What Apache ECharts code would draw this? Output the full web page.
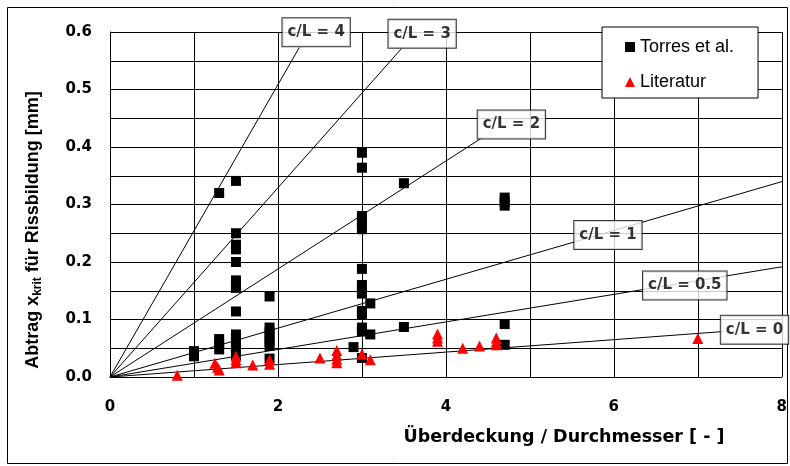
<!DOCTYPE html>
<html><head><meta charset="utf-8">
<script src="https://cdn.jsdelivr.net/npm/echarts@6/dist/echarts.min.js"></script>
<style>html,body{margin:0;padding:0;background:#fff}#c{width:790px;height:466px}</style>
</head><body><div id="c"></div>
<script>
// Torres et al. (black squares): [Überdeckung/Durchmesser, Abtrag mm]
const torres = [
  [1.0,0.045],[1.0,0.036],
  [1.3,0.32],[1.3,0.066],[1.3,0.058],[1.3,0.048],
  [1.5,0.341],[1.5,0.25],[1.5,0.23],[1.5,0.222],[1.5,0.2],[1.5,0.168],[1.5,0.16],[1.5,0.155],
  [1.5,0.114],[1.5,0.074],[1.5,0.067],[1.5,0.06],[1.5,0.052],[1.5,0.045],[1.5,0.038],
  [1.9,0.14],[1.9,0.086],[1.9,0.078],[1.9,0.07],[1.9,0.062],[1.9,0.054],[1.9,0.032],
  [2.9,0.052],
  [3.0,0.39],[3.0,0.364],[3.0,0.28],[3.0,0.273],[3.0,0.265],[3.0,0.257],[3.0,0.188],
  [3.0,0.16],[3.0,0.15],[3.0,0.145],[3.0,0.115],[3.0,0.108],[3.0,0.086],[3.0,0.079],[3.0,0.033],
  [3.1,0.128],[3.1,0.074],
  [3.5,0.337],[3.5,0.087],
  [4.7,0.312],[4.7,0.305],[4.7,0.298],[4.7,0.092],[4.7,0.056]
];
// Literatur (red triangles)
const literatur = [
  [0.8,0.003],
  [1.25,0.024],[1.28,0.017],[1.3,0.012],
  [1.5,0.036],[1.5,0.03],[1.5,0.025],
  [1.7,0.021],
  [1.9,0.03],[1.9,0.022],
  [2.5,0.033],
  [2.7,0.046],[2.7,0.038],[2.7,0.031],[2.7,0.025],
  [3.0,0.04],[3.1,0.03],
  [3.9,0.075],[3.9,0.068],[3.9,0.062],
  [4.2,0.05],[4.4,0.054],
  [4.6,0.068],[4.6,0.061],[4.6,0.056],
  [7.0,0.067]
];
// c/L reference lines: from origin to end point
const ratioNames = ['c/L = 4','c/L = 3','c/L = 2','c/L = 1','c/L = 0.5','c/L = 0'];
const ratioLineEnds = [[2.254,0.573],[3.47,0.571],[4.43,0.416],[8.1,0.344],[8.1,0.194],[7.3,0.079]];
const ratioLabelPos = [[2.455,0.5997],[3.717,0.597],[4.78,0.439],[5.93,0.247],[6.845,0.159],[7.675,0.0823]];
// axes
const xMin = 0, xMax = 8, xGridStep = 1, xLabelStep = 2;
const yMin = 0, yMax = 0.6, yGridStep = 0.05, yLabelStep = 0.1;

const BOLD = 'DejaVu Sans';
const chart = echarts.init(document.getElementById('c'), null, {renderer:'canvas'});

const lineSeries = ratioNames.map((n, i) => ({
  name: n, type: 'line', data: [[0,0], ratioLineEnds[i]],
  symbol: 'none', clip: false, silent: true, z: 2,
  lineStyle: {color:'#000', width: 1}
}));

const option = {
  animation: false,
  backgroundColor: '#fff',
  grid: {left: 110, right: 8, top: 32, bottom: 89, show: false},
  xAxis: {
    type: 'value', min: xMin, max: xMax, interval: xGridStep,
    axisLine: {show: true, lineStyle: {color:'#000', width: 1}},
    axisTick: {show: false},
    splitLine: {show: true, lineStyle: {color:'#000', width: 1}},
    axisLabel: {
      margin: 23, color:'#000', fontFamily: BOLD, fontWeight: 'bold', fontSize: 15,
      formatter: v => (Math.round(v) % xLabelStep === 0 ? String(v) : '')
    }
  },
  yAxis: {
    type: 'value', min: yMin, max: yMax, interval: yGridStep,
    axisLine: {show: true, lineStyle: {color:'#000', width: 1}},
    axisTick: {show: false},
    splitLine: {show: true, lineStyle: {color:'#000', width: 1}},
    axisLabel: {
      margin: 18, color:'#000', fontFamily: BOLD, fontWeight: 'bold', fontSize: 15,
      formatter: v => { const r = Math.round(v*100); return r % Math.round(yLabelStep*100) === 0 ? (r/100).toFixed(1) : ''; }
    }
  },
  legend: {
    data: [{name:'Torres et al.', icon:'rect'}, {name:'Literatur', icon:'triangle'}],
    orient: 'vertical', left: 602, top: 27,
    padding: [10, 24, 6, 23], itemGap: 15, itemWidth: 10, itemHeight: 10,
    backgroundColor: '#fff', borderColor: '#000', borderWidth: 1,
    textStyle: {fontFamily: 'Liberation Sans', fontSize: 18, color:'#000', lineHeight: 20},
    z: 10
  },
  graphic: [
    {type:'rect', shape:{x:7.5, y:7.5, width:780, height:456}, style:{fill:'none', stroke:'#000', lineWidth:1}, z: 0, silent: true},
    {type:'text', x: 564, y: 437, style:{text:'Überdeckung / Durchmesser [ - ]', font:'bold 17.5px "DejaVu Sans"', fill:'#000', align:'center', verticalAlign:'middle'}},
    {type:'text', x: 33, y: 230, rotation: Math.PI/2, style:{
      text:'{a|Abtrag x}{s|krit}{a| für Rissbildung [mm]}', align:'center', verticalAlign:'middle', fill:'#000',
      rich:{
        a:{fontFamily:'Liberation Sans', fontWeight:'bold', fontSize:18, fill:'#000', lineHeight:22},
        s:{fontFamily:'Liberation Sans', fontWeight:'bold', fontSize:12, fill:'#000', padding:[9,0,0,0], lineHeight:14}
      }
    }}
  ],
  series: [
    ...lineSeries,
    {
      name: 'Torres et al.', type: 'scatter', data: torres, symbol: 'rect', symbolSize: 10, z: 4,
      itemStyle: {color:'#000', opacity: 1}
    },
    {
      name: 'Literatur', type: 'scatter', data: literatur, symbol: 'triangle', symbolSize: 11, z: 4,
      itemStyle: {color:'#ff0000', opacity: 1}
    },
    {
      name: 'ratioLabels', type: 'scatter', z: 6, silent: true,
      symbol: 'rect', symbolSize: 1, itemStyle: {color:'rgba(0,0,0,0)'},
      data: ratioNames.map((n, i) => ({name: n, value: ratioLabelPos[i]})),
      label: {
        show: true, position: 'inside', formatter: '{b}',
        fontFamily: BOLD, fontWeight: 'bold', fontSize: 15, color: '#000', lineHeight: 18,
        backgroundColor: '#fff', borderColor: '#000', borderWidth: 1, padding: [5,5,5,5]
      }
    }
  ]
};
chart.setOption(option);
</script></body></html>
